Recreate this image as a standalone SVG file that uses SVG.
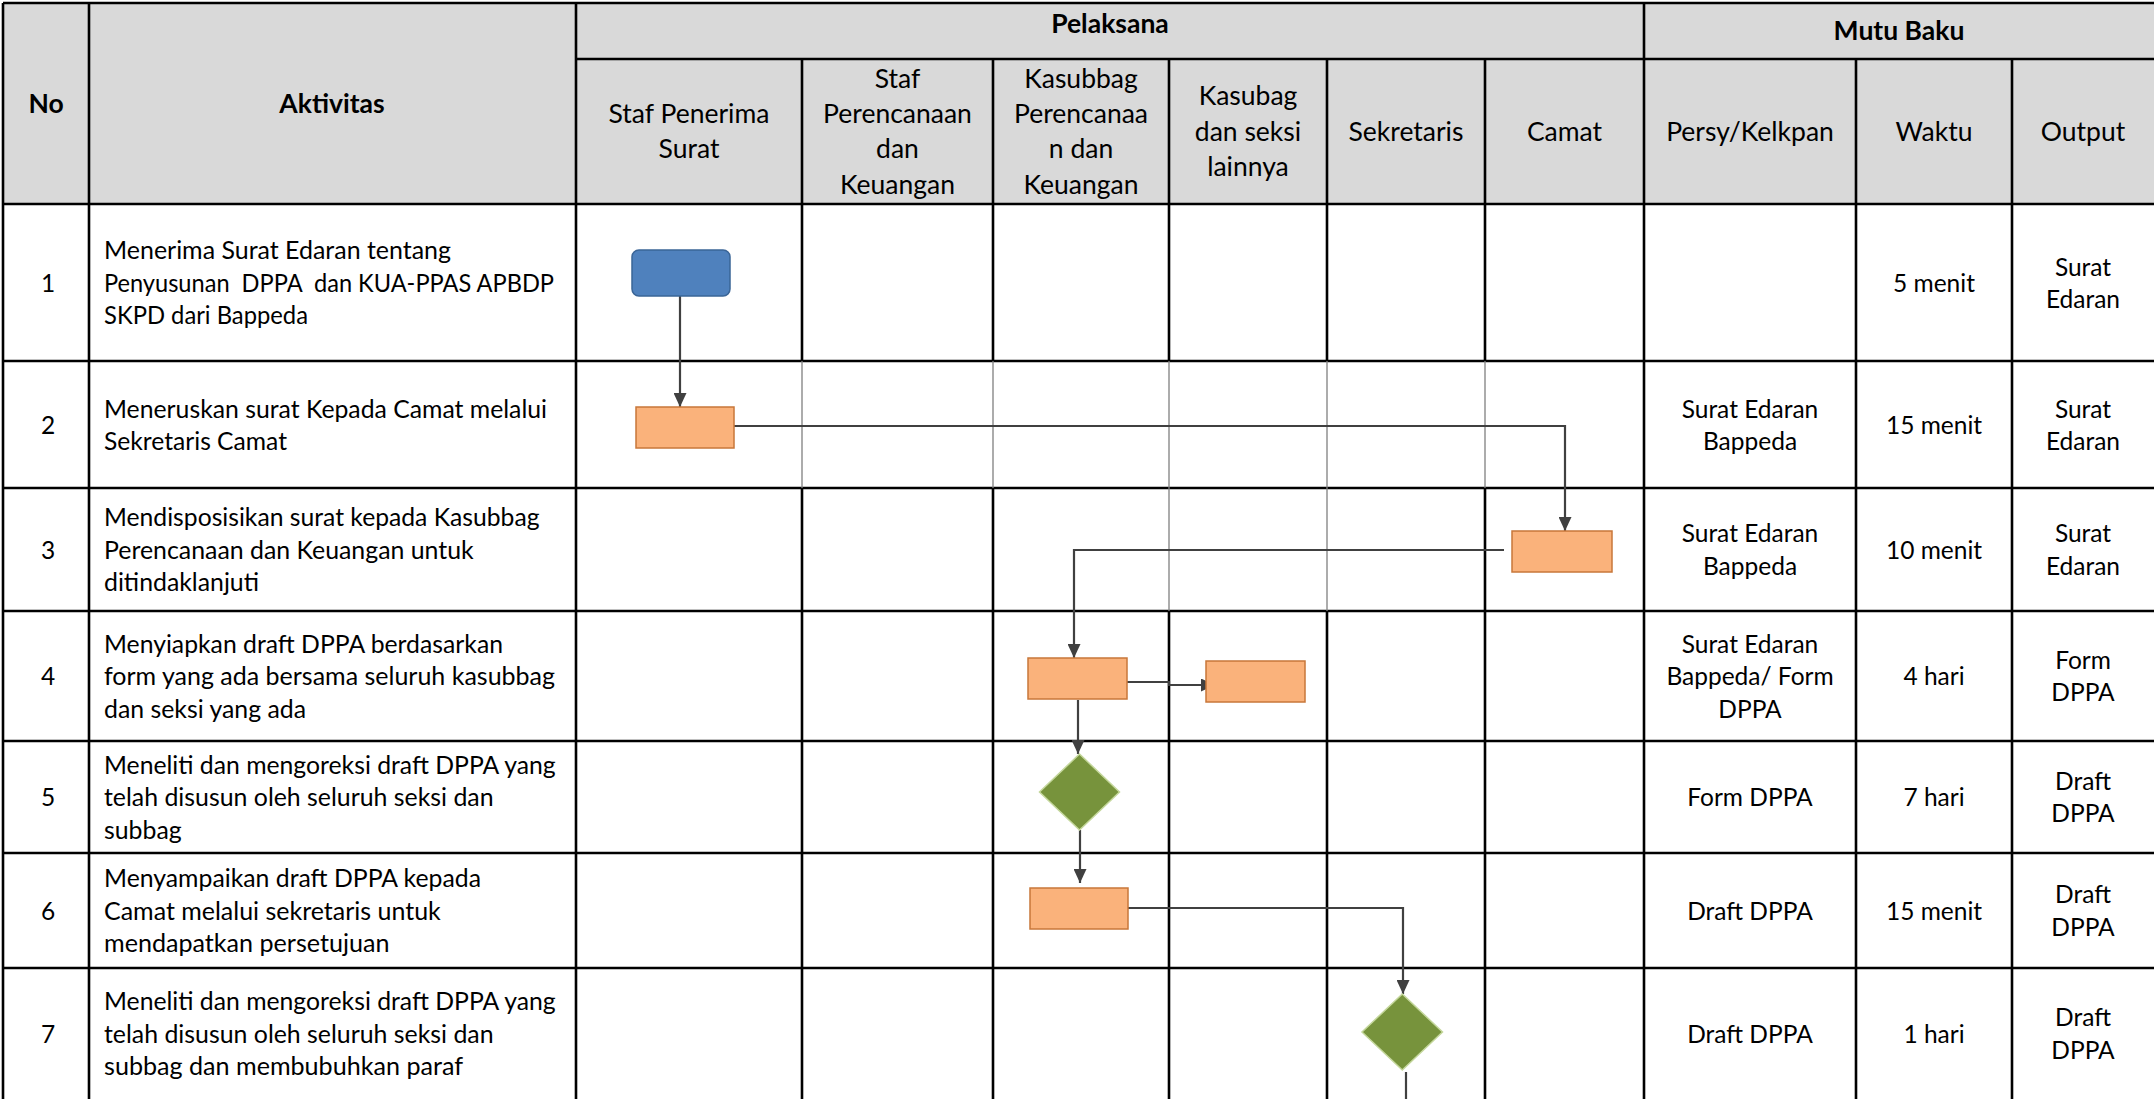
<svg xmlns="http://www.w3.org/2000/svg" width="2154" height="1099" viewBox="0 0 2154 1099">
<defs>
<style>
.grid{stroke:#000;stroke-width:2.6;fill:none}
.thin{stroke:#808080;stroke-width:1.3;fill:none}
.t{font-family:Lato,"Liberation Sans",sans-serif;font-size:24.5px;fill:#000}
.h{font-size:26.5px}
.b{font-weight:bold}
.c{text-anchor:middle}
.conn{stroke:#404040;stroke-width:2.2;fill:none}
.arr{marker-end:url(#ah)}
.proc{fill:#FAB27B;stroke:#C8773A;stroke-width:1.5}
.dec{fill:#77933C;stroke:#C4D79B;stroke-width:1.5}
.start{fill:#4F81BD;stroke:#3A6597;stroke-width:1.5}
</style>
<marker id="ah" markerUnits="userSpaceOnUse" markerWidth="14" markerHeight="13" refX="14" refY="6.5" orient="auto">
<path d="M0,0 L14,6.5 L0,13 z" fill="#404040"/>
</marker>
</defs>
<rect x="0" y="0" width="2154" height="1099" fill="#fff"/>
<g id="table">
<rect x="3" y="3" width="2151" height="201" fill="#D9D9D9"/>
<path class="grid" d="M3 3H2154M576 59H2154M3 204H2154M3 361H2154M3 488H2154M3 611H2154M3 741H2154M3 853H2154M3 968H2154"/>
<path class="grid" d="M3 3V1099M89 3V1099M576 3V1099M1644 3V1099M1856 59V1099M2012 59V1099"/>
<path class="grid" d="M802 59V361M802 488V1099M993 59V361M993 488V1099M1169 59V361M1169 611V1099M1327 59V361M1327 611V1099M1485 59V361M1485 488V1099"/>
<path class="thin" d="M802 361V488M993 361V488M1169 361V611M1327 361V611M1485 361V488"/>
</g>
<g id="header">
<text class="t h b c" x="46" y="113">No</text>
<text class="t h b c" x="332" y="113">Aktivitas</text>
<text class="t h b c" x="1110" y="33">Pelaksana</text>
<text class="t h b c" x="1899" y="40">Mutu Baku</text>
<text class="t h c" x="689" y="123">Staf Penerima</text>
<text class="t h c" x="689" y="158">Surat</text>
<text class="t h c" x="897.5" y="87.5">Staf</text>
<text class="t h c" x="897.5" y="123">Perencanaan</text>
<text class="t h c" x="897.5" y="158">dan</text>
<text class="t h c" x="897.5" y="193.5">Keuangan</text>
<text class="t h c" x="1081" y="87.5">Kasubbag</text>
<text class="t h c" x="1081" y="123">Perencanaa</text>
<text class="t h c" x="1081" y="158">n dan</text>
<text class="t h c" x="1081" y="193.5">Keuangan</text>
<text class="t h c" x="1248" y="105">Kasubag</text>
<text class="t h c" x="1248" y="140.5">dan seksi</text>
<text class="t h c" x="1248" y="176">lainnya</text>
<text class="t h c" x="1406" y="140.5">Sekretaris</text>
<text class="t h c" x="1564.5" y="140.5">Camat</text>
<text class="t h c" x="1750" y="140.5">Persy/Kelkpan</text>
<text class="t h c" x="1934" y="140.5">Waktu</text>
<text class="t h c" x="2083" y="140.5">Output</text>
</g>
<g id="rows">
<text class="t c" x="48" y="291.5">1</text>
<text class="t" x="104" y="259" textLength="347" lengthAdjust="spacingAndGlyphs">Menerima Surat Edaran tentang</text>
<text class="t" x="104" y="291.5" textLength="450" lengthAdjust="spacingAndGlyphs" xml:space="preserve" style="white-space:pre">Penyusunan  DPPA  dan KUA-PPAS APBDP</text>
<text class="t" x="104" y="324" textLength="204" lengthAdjust="spacingAndGlyphs">SKPD dari Bappeda</text>
<text class="t c" x="1934" y="291.5">5 menit</text>
<text class="t c" x="2083" y="275.5">Surat</text>
<text class="t c" x="2083" y="308">Edaran</text>

<text class="t c" x="48" y="433.5">2</text>
<text class="t" x="104" y="417.5" textLength="443" lengthAdjust="spacingAndGlyphs">Meneruskan surat Kepada Camat melalui</text>
<text class="t" x="104" y="450" textLength="183" lengthAdjust="spacingAndGlyphs">Sekretaris Camat</text>
<text class="t c" x="1750" y="417.5">Surat Edaran</text>
<text class="t c" x="1750" y="450">Bappeda</text>
<text class="t c" x="1934" y="433.5">15 menit</text>
<text class="t c" x="2083" y="417.5">Surat</text>
<text class="t c" x="2083" y="450">Edaran</text>

<text class="t c" x="48" y="558.5">3</text>
<text class="t" x="104" y="526" textLength="435.5" lengthAdjust="spacingAndGlyphs">Mendisposisikan surat kepada Kasubbag</text>
<text class="t" x="104" y="558.5" textLength="369.7" lengthAdjust="spacingAndGlyphs">Perencanaan dan Keuangan untuk</text>
<text class="t" x="104" y="591" textLength="155" lengthAdjust="spacingAndGlyphs">ditindaklanjuti</text>
<text class="t c" x="1750" y="542">Surat Edaran</text>
<text class="t c" x="1750" y="574.5">Bappeda</text>
<text class="t c" x="1934" y="558.5">10 menit</text>
<text class="t c" x="2083" y="542">Surat</text>
<text class="t c" x="2083" y="574.5">Edaran</text>

<text class="t c" x="48" y="685">4</text>
<text class="t" x="104" y="652.5" textLength="399" lengthAdjust="spacingAndGlyphs">Menyiapkan draft DPPA berdasarkan</text>
<text class="t" x="104" y="685" textLength="451" lengthAdjust="spacingAndGlyphs">form yang ada bersama seluruh kasubbag</text>
<text class="t" x="104" y="717.5" textLength="202" lengthAdjust="spacingAndGlyphs">dan seksi yang ada</text>
<text class="t c" x="1750" y="652.5">Surat Edaran</text>
<text class="t c" x="1750" y="685">Bappeda/ Form</text>
<text class="t c" x="1750" y="717.5">DPPA</text>
<text class="t c" x="1934" y="685">4 hari</text>
<text class="t c" x="2083" y="668.5">Form</text>
<text class="t c" x="2083" y="701">DPPA</text>

<text class="t c" x="48" y="806">5</text>
<text class="t" x="104" y="773.5" textLength="451.6" lengthAdjust="spacingAndGlyphs">Meneliti dan mengoreksi draft DPPA yang</text>
<text class="t" x="104" y="806" textLength="389.6" lengthAdjust="spacingAndGlyphs">telah disusun oleh seluruh seksi dan</text>
<text class="t" x="104" y="838.5" textLength="77.7" lengthAdjust="spacingAndGlyphs">subbag</text>
<text class="t c" x="1750" y="806">Form DPPA</text>
<text class="t c" x="1934" y="806">7 hari</text>
<text class="t c" x="2083" y="789.5">Draft</text>
<text class="t c" x="2083" y="822">DPPA</text>

<text class="t c" x="48" y="919.5">6</text>
<text class="t" x="104" y="887" textLength="377" lengthAdjust="spacingAndGlyphs">Menyampaikan draft DPPA kepada</text>
<text class="t" x="104" y="919.5" textLength="336.8" lengthAdjust="spacingAndGlyphs">Camat melalui sekretaris untuk</text>
<text class="t" x="104" y="952" textLength="285.5" lengthAdjust="spacingAndGlyphs">mendapatkan persetujuan</text>
<text class="t c" x="1750" y="919.5">Draft DPPA</text>
<text class="t c" x="1934" y="919.5">15 menit</text>
<text class="t c" x="2083" y="903">Draft</text>
<text class="t c" x="2083" y="935.5">DPPA</text>

<text class="t c" x="48" y="1042.5">7</text>
<text class="t" x="104" y="1010" textLength="451.6" lengthAdjust="spacingAndGlyphs">Meneliti dan mengoreksi draft DPPA yang</text>
<text class="t" x="104" y="1042.5" textLength="389.6" lengthAdjust="spacingAndGlyphs">telah disusun oleh seluruh seksi dan</text>
<text class="t" x="104" y="1075" textLength="359" lengthAdjust="spacingAndGlyphs">subbag dan membubuhkan paraf</text>
<text class="t c" x="1750" y="1042.5">Draft DPPA</text>
<text class="t c" x="1934" y="1042.5">1 hari</text>
<text class="t c" x="2083" y="1026">Draft</text>
<text class="t c" x="2083" y="1058.5">DPPA</text>
</g>
<g id="connectors">
<path class="conn arr" d="M680 296V407"/>
<path class="conn arr" d="M734 426H1565V531"/>
<path class="conn arr" d="M1504 550H1074V658"/>
<path class="conn arr" d="M1127 682H1169V685H1215"/>
<path class="conn arr" d="M1078 700V754"/>
<path class="conn arr" d="M1080 830V883"/>
<path class="conn arr" d="M1128 908H1403V994"/>
<path class="conn" d="M1406 1072V1099"/>
</g>
<g id="node1"><rect class="start" x="632" y="250" width="98" height="46" rx="7"/></g>
<g id="node2"><rect class="proc" x="636" y="407" width="98" height="41"/></g>
<g id="node3"><rect class="proc" x="1512" y="531" width="100" height="41"/></g>
<g id="node4"><rect class="proc" x="1028" y="658" width="99" height="41"/></g>
<g id="node4b"><rect class="proc" x="1206" y="661" width="99" height="41"/></g>
<g id="node5"><polygon class="dec" points="1079.5,754 1119.5,792 1079.5,830 1039.5,792"/></g>
<g id="node6"><rect class="proc" x="1030" y="888" width="98" height="41"/></g>
<g id="node7"><polygon class="dec" points="1402.3,994 1442.5,1032 1402.3,1070 1362,1032"/></g>
</svg>
